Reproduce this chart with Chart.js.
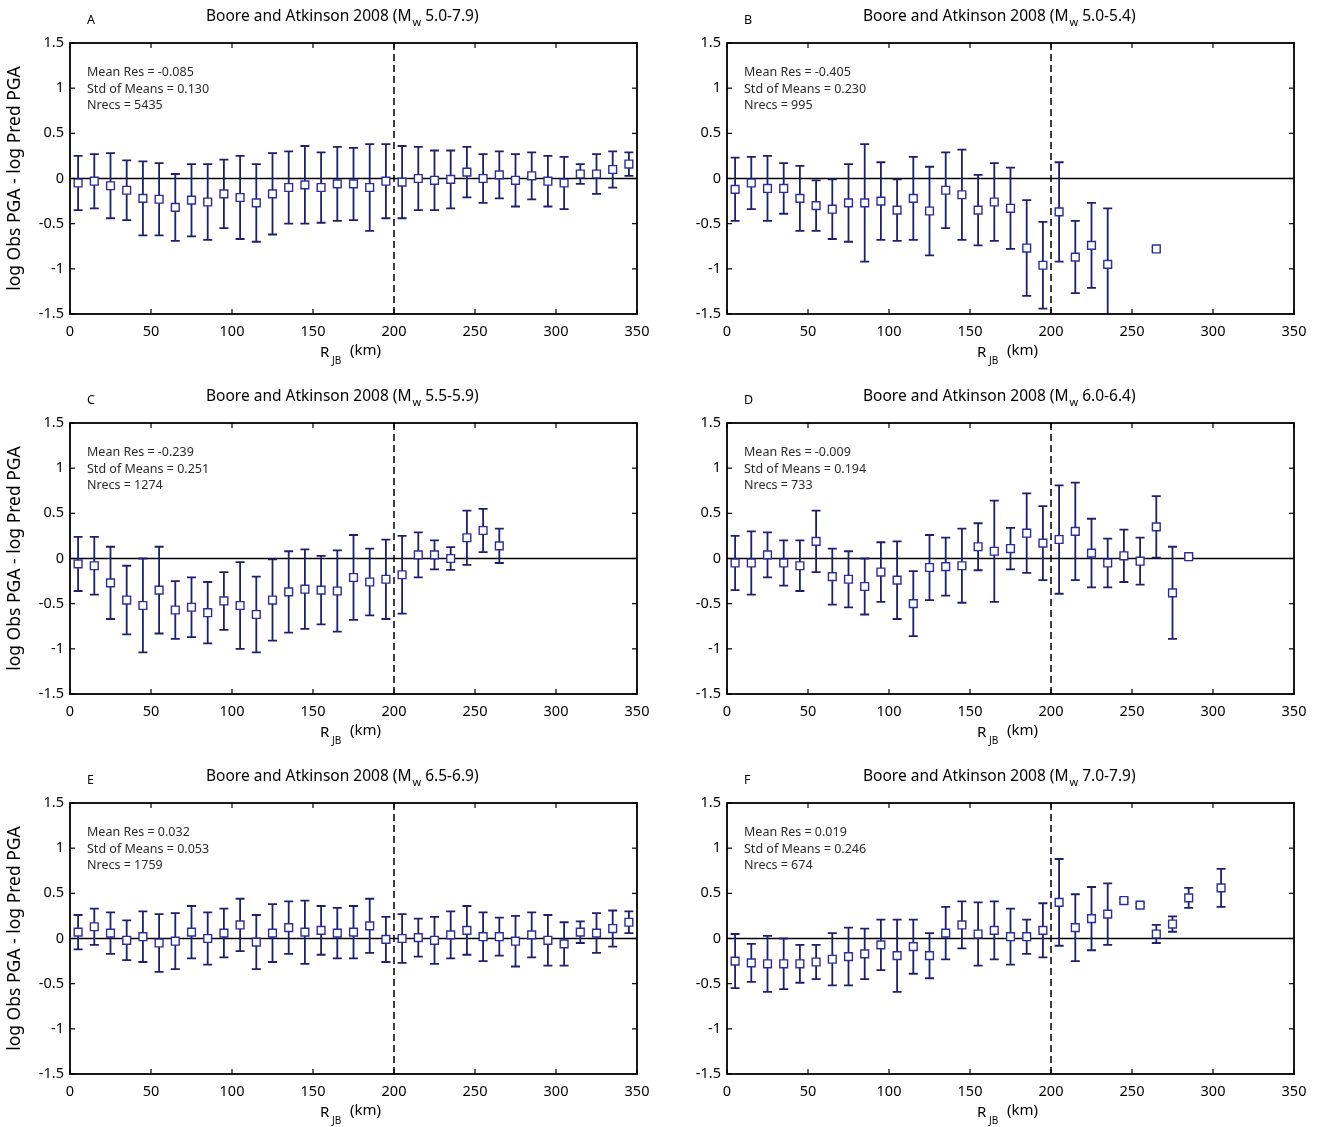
<!DOCTYPE html>
<html>
<head>
<meta charset="utf-8">
<script src="https://cdn.jsdelivr.net/npm/chart.js@4.4.1/dist/chart.umd.min.js"></script>
<style>
  body { margin: 0; background: #fff; }
  #wrap { position: relative; width: 1320px; height: 1127px; overflow: hidden; }
  #wrap canvas { position: absolute; }
</style>
</head>
<body>
<div id="wrap">
  <canvas id="pA" width="660" height="367" style="left:0px;top:0px"></canvas>
  <canvas id="pB" width="660" height="367" style="left:657px;top:0px"></canvas>
  <canvas id="pC" width="660" height="367" style="left:0px;top:380px"></canvas>
  <canvas id="pD" width="660" height="367" style="left:657px;top:380px"></canvas>
  <canvas id="pE" width="660" height="367" style="left:0px;top:760px"></canvas>
  <canvas id="pF" width="660" height="367" style="left:657px;top:760px"></canvas>
</div>
<script>
// tick values
const xTicks = [0, 50, 100, 150, 200, 250, 300, 350];
const yTicks = [-1.5, -1, -0.5, 0, 0.5, 1, 1.5];

// panel text
const letters = ['A', 'B', 'C', 'D', 'E', 'F'];
const magRanges = ['5.0-7.9', '5.0-5.4', '5.5-5.9', '6.0-6.4', '6.5-6.9', '7.0-7.9'];
const meanRes = ['-0.085', '-0.405', '-0.239', '-0.009', '0.032', '0.019'];
const stdMeans = ['0.130', '0.230', '0.251', '0.194', '0.053', '0.246'];
const nrecs = ['5435', '995', '1274', '733', '1759', '674'];

// A: Mw 5.0-7.9
const distA = [5, 15, 25, 35, 45, 55, 65, 75, 85, 95, 105, 115, 125, 135, 145, 155, 165, 175, 185, 195, 205, 215, 225, 235, 245, 255, 265, 275, 285, 295, 305, 315, 325, 335, 345];
const meanA = [-0.05, -0.03, -0.08, -0.13, -0.22, -0.23, -0.32, -0.24, -0.26, -0.17, -0.21, -0.27, -0.17, -0.10, -0.07, -0.10, -0.06, -0.06, -0.10, -0.03, -0.04, 0.00, -0.02, -0.01, 0.07, 0.00, 0.04, -0.02, 0.03, -0.03, -0.05, 0.05, 0.05, 0.10, 0.16];
const sdA = [0.30, 0.30, 0.36, 0.33, 0.41, 0.40, 0.37, 0.40, 0.42, 0.38, 0.46, 0.43, 0.45, 0.40, 0.43, 0.39, 0.41, 0.40, 0.48, 0.41, 0.40, 0.35, 0.33, 0.32, 0.28, 0.27, 0.26, 0.29, 0.26, 0.28, 0.29, 0.11, 0.22, 0.20, 0.13];

// B: Mw 5.0-5.4
const distB = [5, 15, 25, 35, 45, 55, 65, 75, 85, 95, 105, 115, 125, 135, 145, 155, 165, 175, 185, 195, 205, 215, 225, 235, 265];
const meanB = [-0.12, -0.05, -0.11, -0.11, -0.22, -0.30, -0.34, -0.27, -0.27, -0.25, -0.35, -0.22, -0.36, -0.13, -0.18, -0.35, -0.26, -0.33, -0.77, -0.96, -0.37, -0.87, -0.74, -0.95, -0.78];
const sdB = [0.35, 0.29, 0.36, 0.28, 0.36, 0.28, 0.33, 0.43, 0.65, 0.43, 0.34, 0.46, 0.49, 0.42, 0.50, 0.39, 0.43, 0.45, 0.53, 0.48, 0.55, 0.40, 0.47, 0.62, 0.02];

// C: Mw 5.5-5.9
const distC = [5, 15, 25, 35, 45, 55, 65, 75, 85, 95, 105, 115, 125, 135, 145, 155, 165, 175, 185, 195, 205, 215, 225, 235, 245, 255, 265];
const meanC = [-0.06, -0.08, -0.27, -0.46, -0.52, -0.35, -0.57, -0.54, -0.60, -0.47, -0.52, -0.62, -0.46, -0.37, -0.34, -0.35, -0.36, -0.21, -0.26, -0.23, -0.18, 0.04, 0.04, 0.00, 0.23, 0.31, 0.14];
const sdC = [0.30, 0.32, 0.40, 0.38, 0.52, 0.48, 0.32, 0.33, 0.34, 0.32, 0.48, 0.42, 0.45, 0.45, 0.44, 0.38, 0.45, 0.47, 0.37, 0.44, 0.43, 0.25, 0.16, 0.125, 0.30, 0.24, 0.19];

// D: Mw 6.0-6.4
const distD = [5, 15, 25, 35, 45, 55, 65, 75, 85, 95, 105, 115, 125, 135, 145, 155, 165, 175, 185, 195, 205, 215, 225, 235, 245, 255, 265, 275, 285];
const meanD = [-0.05, -0.05, 0.04, -0.05, -0.08, 0.19, -0.20, -0.23, -0.31, -0.15, -0.24, -0.50, -0.10, -0.09, -0.08, 0.13, 0.08, 0.11, 0.28, 0.17, 0.21, 0.30, 0.06, -0.05, 0.03, -0.03, 0.35, -0.38, 0.02];
const sdD = [0.30, 0.35, 0.25, 0.25, 0.28, 0.34, 0.31, 0.31, 0.31, 0.33, 0.43, 0.36, 0.36, 0.32, 0.41, 0.26, 0.56, 0.23, 0.44, 0.41, 0.60, 0.54, 0.38, 0.27, 0.29, 0.26, 0.34, 0.51, 0.01];

// E: Mw 6.5-6.9
const distE = [5, 15, 25, 35, 45, 55, 65, 75, 85, 95, 105, 115, 125, 135, 145, 155, 165, 175, 185, 195, 205, 215, 225, 235, 245, 255, 265, 275, 285, 295, 305, 315, 325, 335, 345];
const meanE = [0.07, 0.13, 0.06, -0.02, 0.02, -0.05, -0.03, 0.07, 0.00, 0.06, 0.15, -0.04, 0.06, 0.12, 0.07, 0.09, 0.06, 0.07, 0.14, -0.01, 0.00, 0.01, -0.02, 0.04, 0.09, 0.02, 0.02, -0.03, 0.04, -0.02, -0.06, 0.07, 0.06, 0.11, 0.18];
const sdE = [0.19, 0.20, 0.23, 0.22, 0.28, 0.32, 0.31, 0.29, 0.29, 0.27, 0.29, 0.30, 0.32, 0.29, 0.35, 0.27, 0.28, 0.29, 0.30, 0.25, 0.27, 0.21, 0.26, 0.26, 0.27, 0.27, 0.21, 0.28, 0.25, 0.28, 0.24, 0.12, 0.22, 0.20, 0.12];

// F: Mw 7.0-7.9
const distF = [5, 15, 25, 35, 45, 55, 65, 75, 85, 95, 105, 115, 125, 135, 145, 155, 165, 175, 185, 195, 205, 215, 225, 235, 245, 255, 265, 275, 285, 305];
const meanF = [-0.25, -0.27, -0.28, -0.28, -0.28, -0.26, -0.23, -0.20, -0.17, -0.07, -0.19, -0.09, -0.19, 0.06, 0.15, 0.05, 0.09, 0.02, 0.02, 0.09, 0.40, 0.12, 0.22, 0.27, 0.42, 0.37, 0.05, 0.16, 0.45, 0.56];
const sdF = [0.30, 0.21, 0.31, 0.28, 0.21, 0.19, 0.29, 0.32, 0.28, 0.28, 0.40, 0.30, 0.25, 0.29, 0.26, 0.35, 0.32, 0.31, 0.19, 0.30, 0.48, 0.37, 0.35, 0.34, 0.02, 0.02, 0.10, 0.085, 0.11, 0.21];

const FONT = "'Noto Sans', sans-serif";
const barColor = '#1f1f70';
const markColor = '#2c2c9c';

Chart.defaults.font.family = FONT;
Chart.defaults.font.size = 14;
Chart.defaults.color = '#000';

function line(ctx, x1, y1, x2, y2) {
  ctx.beginPath();
  ctx.moveTo(x1, y1);
  ctx.lineTo(x2, y2);
  ctx.stroke();
}

const panelPlugin = {
  id: 'panel',
  // error bars go under the square markers but over the reference lines
  beforeDatasetDraw(chart, args, opts) {
    if (args.index !== 0) return;
    const { ctx, chartArea: a, scales: { x, y } } = chart;
    const pts = chart.data.datasets[0].data;
    ctx.save();
    ctx.beginPath();
    ctx.rect(a.left, a.top, a.right - a.left, a.bottom - a.top);
    ctx.clip();
    ctx.strokeStyle = barColor;
    ctx.lineWidth = 1.8;
    pts.forEach((p, i) => {
      const px = x.getPixelForValue(p.x);
      const hi = y.getPixelForValue(p.y + opts.sd[i]);
      const lo = y.getPixelForValue(p.y - opts.sd[i]);
      ctx.beginPath();
      ctx.moveTo(px, hi); ctx.lineTo(px, lo);
      ctx.moveTo(px - 4.5, hi); ctx.lineTo(px + 4.5, hi);
      ctx.moveTo(px - 4.5, lo); ctx.lineTo(px + 4.5, lo);
      ctx.stroke();
    });
    ctx.restore();
  },
  afterDraw(chart, args, opts) {
    const { ctx, chartArea: a, scales: { x, y } } = chart;
    ctx.save();
    // inward ticks on all four sides
    ctx.strokeStyle = '#000';
    ctx.lineWidth = 1.2;
    xTicks.forEach(v => {
      const px = x.getPixelForValue(v);
      line(ctx, px, a.bottom, px, a.bottom - 5);
      line(ctx, px, a.top, px, a.top + 5);
    });
    yTicks.forEach(v => {
      const py = y.getPixelForValue(v);
      line(ctx, a.left, py, a.left + 5, py);
      line(ctx, a.right, py, a.right - 5, py);
    });
    ctx.lineWidth = 1.8;
    ctx.strokeRect(a.left, a.top, a.right - a.left, a.bottom - a.top);

    ctx.fillStyle = '#000';
    ctx.textBaseline = 'alphabetic';
    ctx.textAlign = 'left';

    // panel letter
    ctx.font = '12.5px ' + FONT;
    ctx.fillText(opts.letter, a.left + 17, 24);

    // title with subscript w
    let tx = a.left + 136;
    const t1 = 'Boore and Atkinson 2008 (M';
    ctx.font = '15.5px ' + FONT;
    ctx.fillText(t1, tx, 21);
    tx += ctx.measureText(t1).width + 1;
    ctx.font = '11px ' + FONT;
    ctx.fillText('w', tx, 26);
    tx += ctx.measureText('w').width + 4;
    ctx.font = '15.5px ' + FONT;
    ctx.fillText(opts.mag + ')', tx, 21);

    // stats box
    ctx.fillStyle = '#2a2a2a';
    ctx.font = '12.5px ' + FONT;
    ctx.fillText('Mean Res = ' + opts.res, a.left + 17, 76);
    ctx.fillText('Std of Means = ' + opts.std, a.left + 17, 92.5);
    ctx.fillText('Nrecs = ' + opts.n, a.left + 17, 109);

    // x axis title R_JB (km)
    ctx.fillStyle = '#000';
    ctx.font = '15px ' + FONT;
    ctx.fillText('R', a.left + 250, 357);
    ctx.font = '10px ' + FONT;
    ctx.fillText('JB', a.left + 262, 364);
    ctx.font = '15px ' + FONT;
    ctx.fillText('(km)', a.left + 280, 355);
    ctx.restore();
  }
};

function makePanel(k, dist, mean, sd) {
  const pts = dist.map((d, i) => ({ x: d, y: mean[i] }));
  new Chart(document.getElementById('p' + letters[k]), {
    type: 'scatter',
    data: {
      datasets: [
        {
          data: pts,
          pointStyle: 'rect',
          pointRadius: 5.5,
          pointBorderWidth: 1.4,
          borderColor: markColor,
          backgroundColor: '#fff'
        },
        {
          type: 'line',
          data: [{ x: 0, y: 0 }, { x: 350, y: 0 }],
          borderColor: '#000',
          borderWidth: 1.5,
          pointRadius: 0
        },
        {
          type: 'line',
          data: [{ x: 200, y: -1.5 }, { x: 200, y: 1.5 }],
          borderColor: '#000',
          borderWidth: 1.5,
          borderDash: [7, 4],
          pointRadius: 0
        }
      ]
    },
    options: {
      responsive: false,
      animation: false,
      events: [],
      layout: { padding: { left: 0, top: 43, right: 23, bottom: 0 } },
      plugins: {
        legend: { display: false },
        tooltip: { enabled: false },
        panel: {
          letter: letters[k], mag: magRanges[k],
          res: meanRes[k], std: stdMeans[k], n: nrecs[k], sd: sd
        }
      },
      scales: {
        x: {
          type: 'linear', min: 0, max: 350,
          ticks: { stepSize: 50, padding: 9, maxRotation: 0, autoSkip: false, color: '#000', font: { size: 14.5 } },
          grid: { display: false, drawTicks: false },
          border: { display: false },
          afterFit: s => { s.height = 53; }
        },
        y: {
          type: 'linear', min: -1.5, max: 1.5,
          ticks: { stepSize: 0.5, padding: 6, color: '#000', font: { size: 14.5 }, callback: v => String(v) },
          grid: { display: false, drawTicks: false },
          border: { display: false },
          title: {
            display: k % 2 === 0,
            text: 'log Obs PGA - log Pred PGA',
            color: '#000',
            font: { size: 17.5 },
            padding: { top: 5, bottom: 0 }
          },
          afterFit: s => { s.width = 70; }
        }
      }
    },
    plugins: [panelPlugin]
  });
}

makePanel(0, distA, meanA, sdA);
makePanel(1, distB, meanB, sdB);
makePanel(2, distC, meanC, sdC);
makePanel(3, distD, meanD, sdD);
makePanel(4, distE, meanE, sdE);
makePanel(5, distF, meanF, sdF);
</script>
</body>
</html>
